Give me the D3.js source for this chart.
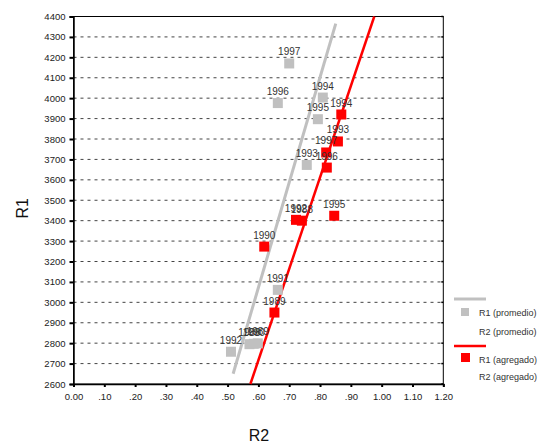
<!DOCTYPE html>
<html><head><meta charset="utf-8">
<script src="https://cdn.jsdelivr.net/npm/d3@7"></script>
<style>body{margin:0;background:#fff}svg{display:block;font-family:Arial,"Liberation Sans",sans-serif}</style>
</head><body><svg id="c" width="545" height="446"></svg>
<script>
const grayYears = ["1997","1996","1994","1995","1993","1991","1992","1988","1990","1989"];
const grayR2 = [0.700,0.663,0.809,0.793,0.757,0.663,0.511,0.571,0.585,0.598];
const grayR1 = [4170,3976,4003,3897,3673,3061,2758,2795,2797,2799];
const redYears = ["1994","1993","1997","1996","1992","1988","1995","1990","1989"];
const redR2 = [0.869,0.858,0.820,0.822,0.722,0.741,0.846,0.619,0.652];
const redR1 = [3920,3788,3734,3660,3404,3400,3424,3273,2950];
const grayLineR2 = [0.518,0.851];
const grayLineR1 = [2650,4365];
const redLineR2 = [0.574,0.976];
const redLineR1 = [2600,4400];
const xTicks = [0,0.1,0.2,0.3,0.4,0.5,0.6,0.7,0.8,0.9,1.0,1.1,1.2];
const xTickLabels = ["0.00",".10",".20",".30",".40",".50",".60",".70",".80",".90","1.00","1.10","1.20"];
const yTicks = d3.range(2600,4401,100);
const legendLabels = ["R1 (promedio)","R2 (promedio)","R1 (agregado)","R2 (agregado)"];

const svg = d3.select("#c");
const x = d3.scaleLinear().domain([0,1.2]).range([73.5,443.3]);
const y = d3.scaleLinear().domain([2600,4400]).range([384,16.5]);
const GRAY="#c0c0c0", RED="#ff0000";

// gridlines
svg.append("g").selectAll("line").data(yTicks.filter(v=>v>2600&&v<4400)).join("line")
  .attr("x1",x(0)).attr("x2",x(1.2)).attr("y1",d=>y(d)).attr("y2",d=>y(d))
  .attr("stroke","#444").attr("stroke-width",1).attr("stroke-dasharray","3,4");

// frame
svg.append("rect").attr("x",x(0)).attr("y",y(4400)).attr("width",x(1.2)-x(0)).attr("height",y(2600)-y(4400))
  .attr("fill","none").attr("stroke","#000").attr("stroke-width",1);

// axes
const yAxis = d3.axisLeft(y).tickValues(yTicks).tickSize(4).tickFormat(d3.format("d"));
const gy = svg.append("g").attr("transform",`translate(${x(0)},0)`).call(yAxis);
gy.select(".domain").attr("stroke","#000").attr("stroke-width",1.5);
gy.selectAll(".tick line").attr("stroke","#000").attr("stroke-width",2);
gy.selectAll(".tick text").attr("font-size",9.5).attr("fill","#222").attr("x",-8);

const xAxis = d3.axisBottom(x).tickValues(xTicks).tickSize(3).tickFormat((d,i)=>xTickLabels[i]);
const gx = svg.append("g").attr("transform",`translate(0,${y(2600)})`).call(xAxis);
gx.select(".domain").attr("stroke","#000").attr("stroke-width",1.5);
gx.selectAll(".tick line").attr("stroke","#000").attr("stroke-width",2);
gx.selectAll(".tick text").attr("font-size",9.5).attr("fill","#222").attr("y",9);

// right axis small ticks
svg.append("g").selectAll("line").data(yTicks).join("line")
  .attr("x1",x(1.2)-2).attr("x2",x(1.2)).attr("y1",d=>y(d)).attr("y2",d=>y(d))
  .attr("stroke","#000").attr("stroke-width",1.5);

// axis titles
svg.append("text").attr("transform",`translate(28,${(y(2600)+y(4400))/2+8}) rotate(-90)`)
  .attr("text-anchor","middle").attr("font-size",16).attr("fill","#111").text("R1");
svg.append("text").attr("x",259).attr("y",441).attr("text-anchor","middle").attr("font-size",16).attr("fill","#111").text("R2");

// regression lines
const line = d3.line().x(d=>x(d[0])).y(d=>y(d[1]));
svg.append("path").attr("d",line(d3.zip(grayLineR2,grayLineR1))).attr("stroke",GRAY).attr("stroke-width",3).attr("fill","none");
svg.append("path").attr("d",line(d3.zip(redLineR2,redLineR1))).attr("stroke",RED).attr("stroke-width",2.5).attr("fill","none");

// points
function drawPts(years,xs,ys,color,size){
  const data = years.map((yr,i)=>({yr,x:xs[i],y:ys[i]}));
  const g = svg.append("g");
  g.selectAll("rect").data(data).join("rect")
    .attr("x",d=>x(d.x)-size/2).attr("y",d=>y(d.y)-size/2).attr("width",size).attr("height",size).attr("fill",color);
  g.selectAll("text").data(data).join("text")
    .attr("x",d=>x(d.x)).attr("y",d=>y(d.y)-8).attr("text-anchor","middle")
    .attr("font-size",10).attr("fill","#333").text(d=>d.yr);
}
drawPts(grayYears,grayR2,grayR1,GRAY,10);
drawPts(redYears,redR2,redR1,RED,10);

// legend
const lg = svg.append("g");
lg.append("line").attr("x1",454).attr("x2",486).attr("y1",299).attr("y2",299).attr("stroke",GRAY).attr("stroke-width",3);
lg.append("rect").attr("x",461).attr("y",308).attr("width",8).attr("height",8).attr("fill",GRAY);
lg.append("line").attr("x1",454).attr("x2",486).attr("y1",346).attr("y2",346).attr("stroke",RED).attr("stroke-width",2.5);
lg.append("rect").attr("x",461).attr("y",353).attr("width",9).attr("height",9).attr("fill",RED);
const ly = [316,335,363,380];
lg.selectAll("text").data(legendLabels).join("text")
  .attr("x",479).attr("y",(d,i)=>ly[i]).attr("font-size",9).attr("fill","#333").text(d=>d);
</script></body></html>
